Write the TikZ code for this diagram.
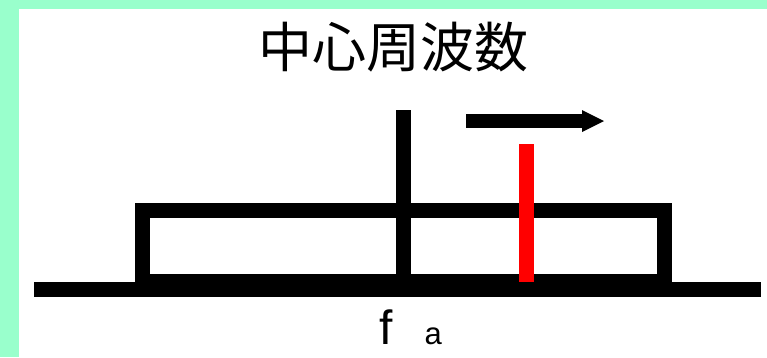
\documentclass[tikz,border=0pt]{standalone}
\usepackage{fontspec}
\newfontfamily\cjk{Noto Sans CJK JP}
\newfontfamily\lat{Liberation Sans}
\definecolor{bgreen}{RGB}{153,255,204}
\definecolor{pred}{RGB}{255,0,0}
\begin{document}
\begin{tikzpicture}[x=1pt,y=-1pt,
  bar/.style={fill=black},
  redbar/.style={fill=pred}]
\useasboundingbox (0,0) rectangle (767,357);
\fill[bgreen] (0,0) rectangle (767,357);
\fill[white] (19,9) rectangle (767,357);
% title
\node[inner sep=0pt, anchor=center] (title) at (393,47) {\cjk\fontsize{54pt}{54pt}\selectfont 中心周波数};
% rectangle (band)
\fill[bar] (135,203) rectangle (672,289);
\fill[white] (150,218) rectangle (657,274);
% baseline
\fill[bar] (34,282) rectangle (761,297);
% centre line
\fill[bar] (396,110) rectangle (411,282);
% red line
\fill[redbar] (519,144) rectangle (534,282);
% arrow
\fill[bar] (466,114) rectangle (586,128);
\fill[bar] (582,110) -- (604,121) -- (582,132) -- cycle;
% label
\node[inner sep=0pt, anchor=base west] (fo) at (379,344) {\lat\fontsize{48pt}{48pt}\selectfont f\hspace{32pt}\fontsize{31pt}{31pt}\selectfont a};
\end{tikzpicture}
\end{document}
